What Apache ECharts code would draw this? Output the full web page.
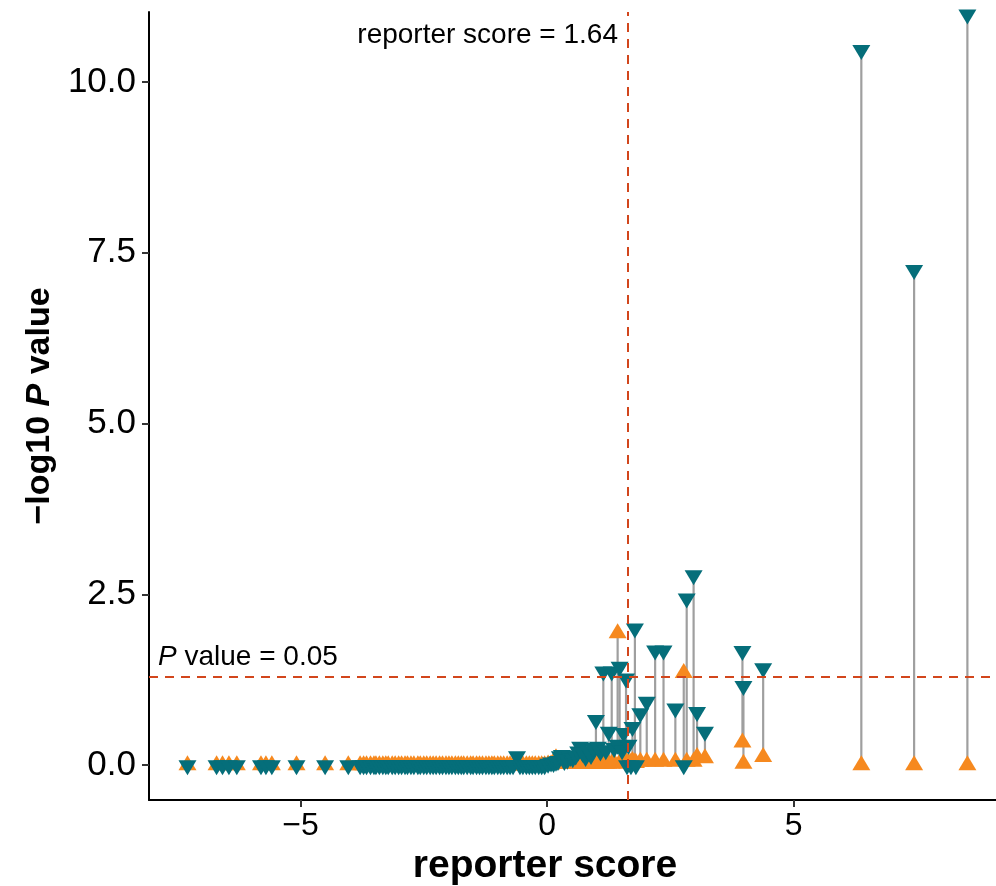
<!DOCTYPE html>
<html>
<head>
<meta charset="utf-8">
<script src="https://cdn.jsdelivr.net/npm/echarts@6/dist/echarts.min.js"></script>
<style>
html,body{margin:0;padding:0;background:#fff;}
#chart{width:996px;height:886px;}
</style>
</head>
<body>
<div id="chart"></div>
<script>
// reporter score of each pathway
const scores = [
  -7.29, -6.70, -6.58, -6.45, -6.29, -5.80, -5.70, -5.58, -5.08, -4.50, -4.03,
  -3.79, -3.72, -3.66, -3.58, -3.51, -3.47, -3.40, -3.33, -3.27, -3.22, -3.14, -3.08, -3.01, -2.95,
  -2.88, -2.83, -2.76, -2.70, -2.62, -2.57, -2.50, -2.44, -2.37, -2.31, -2.25, -2.18, -2.12, -2.05,
  -1.99, -1.93, -1.86, -1.80, -1.74, -1.69, -1.62, -1.55, -1.50, -1.43, -1.37, -1.31, -1.24, -1.18,
  -1.12, -1.07, -1.00, -0.94, -0.88, -0.81, -0.75, -0.69, -0.61, -0.55, -0.49, -0.42, -0.36, -0.30,
  -0.24, -0.17, -0.11, -0.05, 0.02, 0.08, 0.13, 0.18, 0.22, 0.26,
  0.30, 0.35, 0.41, 0.47, 0.52, 0.58, 0.63, 0.67, 0.72, 0.78, 0.84, 0.89, 0.93, 0.99, 1.03, 1.08,
  1.14, 1.19, 1.25, 1.31, 1.36, 1.43, 1.47, 1.52, 1.55, 1.60, 1.62, 1.65, 1.70, 1.73, 1.78, 1.80,
  1.89, 2.02, 2.19, 2.36, 2.60, 2.77, 2.83, 2.97, 3.04, 3.20, 3.96, 3.98, 4.38, 6.37, 7.44, 8.52
];
// -log10 P of the up-regulated test (orange, up triangle)
const upLogP = [
  0.00, 0.00, 0.00, 0.00, 0.00, 0.00, 0.00, 0.00, 0.00, 0.00, 0.00,
  0.00, 0.00, 0.00, 0.00, 0.00, 0.00, 0.00, 0.00, 0.00, 0.00, 0.00, 0.00, 0.00, 0.00,
  0.00, 0.00, 0.00, 0.00, 0.00, 0.00, 0.00, 0.00, 0.00, 0.00, 0.00, 0.00, 0.00, 0.00,
  0.00, 0.00, 0.00, 0.00, 0.00, 0.00, 0.00, 0.00, 0.00, 0.00, 0.00, 0.00, 0.00, 0.00,
  0.00, 0.00, 0.00, 0.00, 0.00, 0.00, 0.00, 0.00, 0.00, 0.00, 0.00, 0.00, 0.00, 0.00,
  0.00, 0.00, 0.00, 0.00, 0.01, 0.01, 0.02, 0.10, 0.02, 0.02,
  0.02, 0.02, 0.02, 0.02, 0.02, 0.02, 0.02, 0.02, 0.02, 0.02, 0.02, 0.02, 0.02, 0.02, 0.03, 0.02,
  0.03, 0.02, 0.02, 0.02, 0.03, 1.93, 0.03, 0.03, 0.04, 0.05, 0.02, 0.03, 0.04, 0.06, 0.04, 0.03,
  0.05, 0.05, 0.05, 0.05, 0.05, 1.35, 0.05, 0.05, 0.12, 0.10, 0.33, 0.02, 0.12, 0.00, 0.00, 0.00
];
// -log10 P of the down-regulated test (teal, down triangle)
const downLogP = [
  0.00, 0.00, 0.00, 0.00, 0.00, 0.00, 0.00, 0.00, 0.00, 0.00, 0.00,
  0.00, 0.00, 0.00, 0.00, 0.00, 0.00, 0.00, 0.00, 0.00, 0.00, 0.00, 0.00, 0.00, 0.00,
  0.00, 0.00, 0.00, 0.00, 0.00, 0.00, 0.00, 0.00, 0.00, 0.00, 0.00, 0.00, 0.00, 0.00,
  0.00, 0.00, 0.00, 0.00, 0.00, 0.00, 0.00, 0.00, 0.00, 0.00, 0.00, 0.00, 0.00, 0.00,
  0.00, 0.00, 0.00, 0.00, 0.00, 0.00, 0.00, 0.00, 0.13, 0.00, 0.00, 0.00, 0.00, 0.00,
  0.00, 0.00, 0.00, 0.00, 0.02, 0.04, 0.03, 0.05, 0.06, 0.13,
  0.15, 0.06, 0.08, 0.12, 0.10, 0.14, 0.20, 0.27, 0.18, 0.12, 0.20, 0.15, 0.25, 0.66, 0.27, 0.20,
  1.37, 0.22, 0.49, 1.37, 0.25, 0.30, 1.44, 0.22, 0.47, 1.27, 0.00, 0.30, 0.00, 0.56, 2.00, 0.00,
  0.76, 0.93, 1.68, 1.68, 0.83, 0.00, 2.44, 2.78, 0.78, 0.49, 1.67, 1.16, 1.42, 10.47, 7.25, 10.99
];
const xTicks = [-5, 0, 5];
const yTicks = [0, 2.5, 5, 7.5, 10];
const scoreCutoff = 1.64;
const pCutoffLog = 1.30103; // -log10(0.05)

const xMin = -8.07, xMax = 9.1, yMin = -0.51, yMax = 11.025;

const chart = echarts.init(document.getElementById('chart'), null, {renderer: 'canvas'});
const FONT = '"Liberation Sans", Arial, Helvetica, sans-serif';

const upData = scores.map((s, i) => [s, upLogP[i]]);
const downData = scores.map((s, i) => [s, downLogP[i]]);
const segData = scores.map((s, i) => [s, upLogP[i], downLogP[i]]);

chart.setOption({
  animation: false,
  backgroundColor: '#ffffff',
  grid: {left: 149, right: 0, top: 12, bottom: 86, containLabel: false},
  xAxis: {
    type: 'value', min: xMin, max: xMax,
    axisLine: {show: true, onZero: false, lineStyle: {color: '#000', width: 2}},
    axisTick: {show: true, length: 7, lineStyle: {color: '#333', width: 2}, customValues: xTicks},
    axisLabel: {
      customValues: xTicks, color: '#000', fontSize: 32, fontFamily: FONT, margin: 10,
      formatter: v => (v < 0 ? '\u2212' + Math.abs(v) : String(v))
    },
    splitLine: {show: false}
  },
  yAxis: {
    type: 'value', min: yMin, max: yMax,
    axisLine: {show: true, onZero: false, lineStyle: {color: '#000', width: 2}},
    axisTick: {show: true, length: 7, lineStyle: {color: '#333', width: 2}, customValues: yTicks},
    axisLabel: {
      customValues: yTicks, color: '#000', fontSize: 35, fontFamily: FONT, margin: 13,
      formatter: v => v.toFixed(1)
    },
    splitLine: {show: false},
    name: '{n|\u2212log10 }{p|P}{n| value}',
    nameLocation: 'middle', nameGap: 84, nameRotate: 90,
    nameTextStyle: {
      rich: {
        n: {fontSize: 34, fontWeight: 'bold', fontFamily: FONT, color: '#000'},
        p: {fontSize: 34, fontWeight: 'bold', fontStyle: 'italic', fontFamily: FONT, color: '#000'}
      }
    }
  },
  series: [
    {
      type: 'custom',
      name: 'segments',
      z: 1,
      data: segData,
      renderItem: function (params, api) {
        const a = api.coord([api.value(0), api.value(1)]);
        const b = api.coord([api.value(0), api.value(2)]);
        return {
          type: 'line',
          shape: {x1: a[0], y1: a[1], x2: b[0], y2: b[1]},
          style: {stroke: '#9f9f9f', lineWidth: 2.2}
        };
      }
    },
    {
      type: 'line',
      name: 'cutoffs',
      data: [],
      z: 2,
      markLine: {
        silent: true, symbol: 'none', label: {show: false},
        lineStyle: {color: '#d2461c', type: [9, 7], width: 2},
        data: [{xAxis: scoreCutoff}, {yAxis: pCutoffLog}]
      }
    },
    {
      type: 'scatter',
      name: 'up',
      z: 3,
      data: upData,
      symbol: 'triangle',
      symbolSize: [18, 15],
      symbolOffset: [0, -2.5],
      itemStyle: {color: '#f6891f', opacity: 1}
    },
    {
      type: 'scatter',
      name: 'down',
      z: 4,
      data: downData,
      symbol: 'triangle',
      symbolRotate: 180,
      symbolSize: [18, 15],
      symbolOffset: [0, 2.5],
      itemStyle: {color: '#056e7a', opacity: 1}
    }
  ]
});

const vTop = chart.convertToPixel({gridIndex: 0}, [scoreCutoff, yMax]);
const hLeft = chart.convertToPixel({gridIndex: 0}, [xMin, pCutoffLog]);
chart.setOption({
  graphic: [
    {
      type: 'text', x: vTop[0] - 10, y: vTop[1] + 23,
      style: {text: 'reporter score = 1.64', fill: '#000', font: '28px ' + FONT,
              align: 'right', verticalAlign: 'middle'}
    },
    {
      type: 'text', x: hLeft[0] + 9, y: hLeft[1] - 19,
      style: {
        text: '{i|P} value = 0.05', fill: '#000', align: 'left', verticalAlign: 'middle',
        rich: {
          i: {fontSize: 28, fontStyle: 'italic', fontFamily: FONT, fill: '#000'}
        },
        font: '28px ' + FONT
      }
    },
    {
      type: 'text', x: 545, y: 866,
      style: {text: 'reporter score', fill: '#000', font: 'bold 39px ' + FONT,
              align: 'center', verticalAlign: 'middle'}
    }
  ]
});
</script>
</body>
</html>
